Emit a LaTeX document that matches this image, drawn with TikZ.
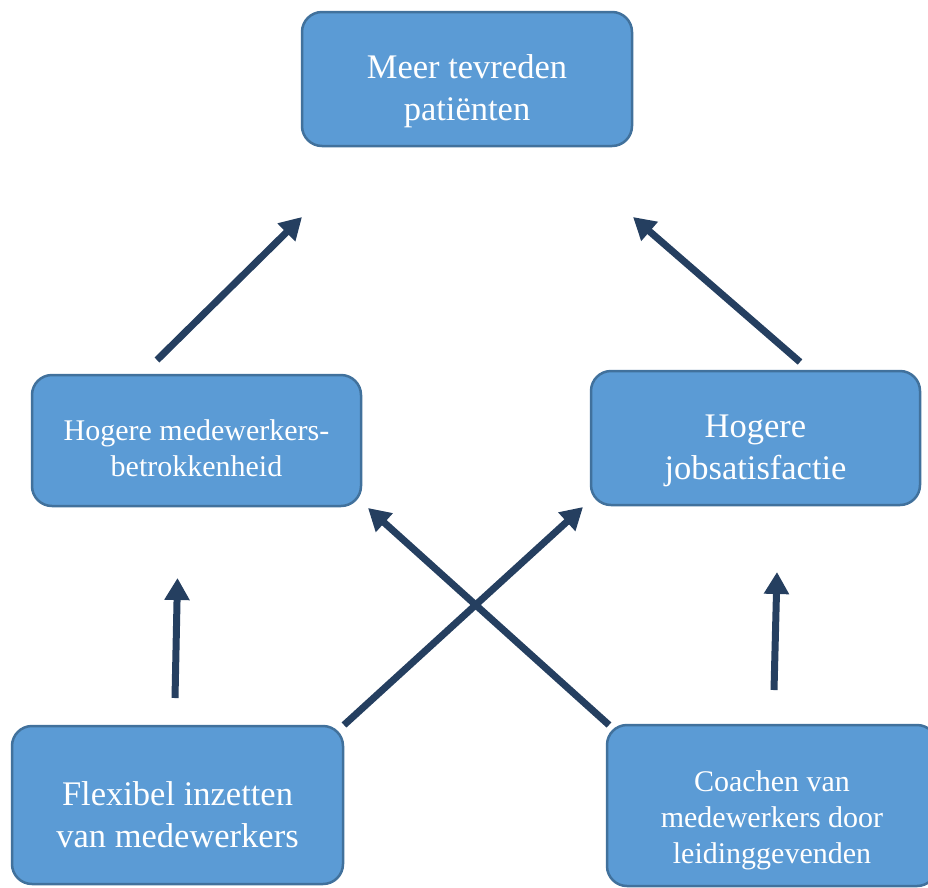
\documentclass[tikz,border=0pt]{standalone}
\usepackage{fontspec}
\setmainfont{Liberation Serif}
\usetikzlibrary{arrows.meta}
\definecolor{boxfill}{HTML}{5B9BD5}
\definecolor{boxline}{HTML}{41719C}
\definecolor{arrowcol}{HTML}{253F60}
\begin{document}
\begin{tikzpicture}[x=1pt,y=-1pt,
  boxnode/.style={draw=boxline, fill=boxfill, line width=2.5pt, rounded corners=20pt, inner sep=0pt},
  boxtext/.style={text=white, align=center, inner sep=0pt},
  bigtext/.style={boxtext, font=\fontsize{34.5}{42}\selectfont},
  smalltext/.style={boxtext, font=\fontsize{30}{36}\selectfont},
  flow/.style={draw=arrowcol, line width=7pt, -{Triangle[width=24pt,length=22pt]}}]
\useasboundingbox (0,0) rectangle (928,887);
\begin{scope}
\clip (0,0) rectangle (928,887);
\node[boxnode, minimum width=330pt, minimum height=134pt] (top) at (467,79) {};
\node[boxnode, minimum width=329pt, minimum height=131pt] (lm) at (196.5,440.5) {};
\node[boxnode, minimum width=329pt, minimum height=134pt] (rm) at (755.5,438) {};
\node[boxnode, minimum width=331pt, minimum height=158pt] (bl) at (177.5,805) {};
\node[boxnode, minimum width=330pt, minimum height=161pt] (br) at (772,805.5) {};
\end{scope}
\node[bigtext] (toptext) at (467,91) {Meer tevreden\\patiënten};
\node[smalltext] (lmtext) at (196.5,448) {Hogere medewerkers-\\betrokkenheid};
\node[bigtext] (rmtext) at (755.5,451) {Hogere\\jobsatisfactie};
\node[bigtext] (bltext) at (177.5,815) {Flexibel inzetten\\van medewerkers};
\node[smalltext] (brtext) at (772,820) {Coachen van\\medewerkers door\\leidinggevenden};
% arrow end points
\coordinate (a1s) at (157,360);
\coordinate (a1e) at (302,217);
\coordinate (a2s) at (800,362);
\coordinate (a2e) at (633,217);
\coordinate (a3s) at (175,698);
\coordinate (a3e) at (177.5,578);
\coordinate (a4s) at (774,690);
\coordinate (a4e) at (777,572);
\coordinate (a5s) at (344,725);
\coordinate (a5e) at (583,507);
\coordinate (a6s) at (609,725);
\coordinate (a6e) at (368,508);
\draw[flow] (a1s) -- (a1e);
\draw[flow] (a2s) -- (a2e);
\draw[flow] (a3s) -- (a3e);
\draw[flow] (a4s) -- (a4e);
\draw[flow] (a5s) -- (a5e);
\draw[flow] (a6s) -- (a6e);
\end{tikzpicture}
\end{document}
